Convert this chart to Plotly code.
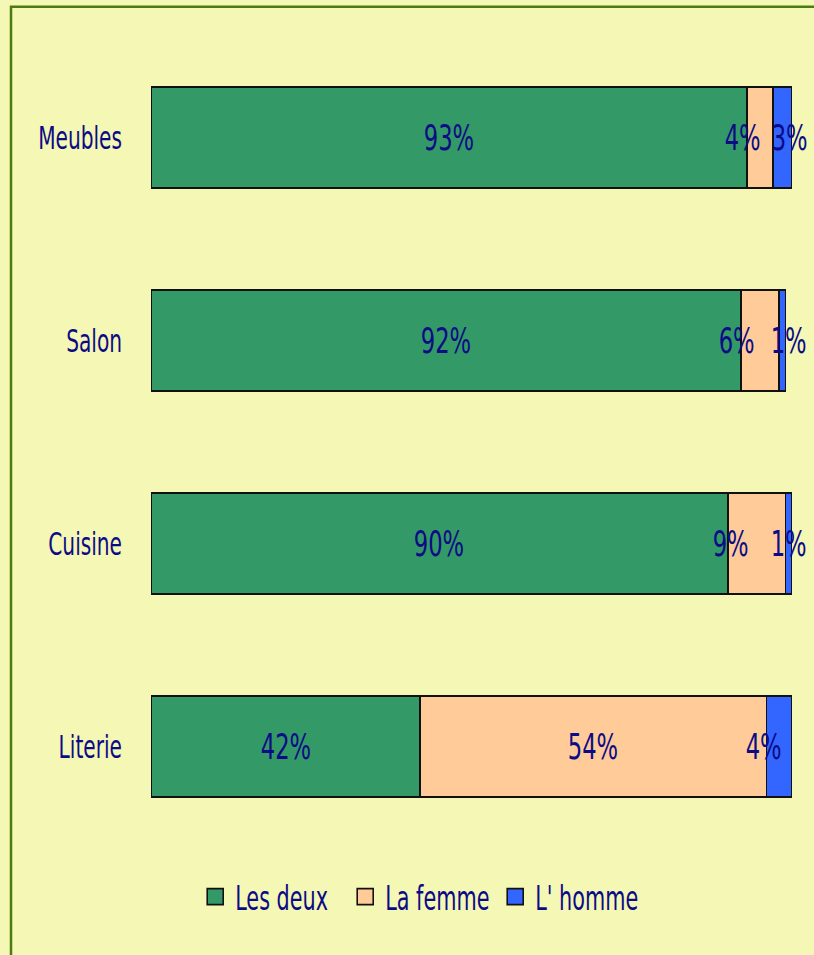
import plotly.graph_objects as go

categories = ["Meubles", "Salon", "Cuisine", "Literie"]
les_deux = [93, 92, 90, 42]
la_femme = [4, 6, 9, 54]
l_homme = [3, 1, 1, 4]
series_names = ["Les deux", "La femme", "L' homme"]
colors = ["#339966", "#FFCC99", "#3366FF"]
# small pixel nudges for the value labels (style only)
label_shift = [[0, -17, 7], [0, -23, 6], [0, -26, 0], [0, 0, -16]]

FONT = "DejaVu Sans Condensed, Liberation Sans Narrow, sans-serif"
TXT = "#0B0B86"
BG = "#F5F7B4"
SQUEEZE = 0.70  # horizontal condensing of all texts (reference uses a very narrow face)

fig = go.Figure()
series = [les_deux, la_femme, l_homme]
for name, vals, col in zip(series_names, series, colors):
    fig.add_trace(go.Bar(
        y=categories, x=vals, orientation="h", name=name,
        marker=dict(color=col, line=dict(color="#111111", width=1.6)),
        width=0.5, showlegend=False, hoverinfo="x+name",
    ))
for name, col in zip(series_names, colors):
    fig.add_trace(go.Scatter(
        x=[None], y=[None], mode="markers", name=name,
        marker=dict(symbol="square", size=16, color=col,
                    line=dict(color="#111111", width=1.6)),
    ))

annotations = []
for i, cat in enumerate(categories):
    start = 0
    for j, vals in enumerate(series):
        v = vals[i]
        annotations.append(dict(
            x=start + v / 2, y=cat, xref="x", yref="y",
            text=f"{v}%", showarrow=False, xshift=label_shift[i][j],
            font=dict(family=FONT, size=36, color=TXT),
        ))
        start += v

fig.update_layout(
    width=814, height=955,
    paper_bgcolor=BG, plot_bgcolor=BG,
    margin=dict(l=151, r=22, t=36, b=107, autoexpand=False),
    barmode="stack",
    font=dict(family=FONT, size=32, color=TXT),
    annotations=annotations,
    xaxis=dict(range=[0, 100], visible=False, fixedrange=True, automargin=False),
    yaxis=dict(categoryorder="array", categoryarray=categories[::-1],
               range=[-0.5, 3.5], showline=False, showgrid=False,
               zeroline=False, ticks="", ticklabelstandoff=28, automargin=False,
               tickfont=dict(family=FONT, size=32, color=TXT)),
    legend=dict(orientation="h", x=0.42, xanchor="center", y=-0.06,
                yanchor="middle", bgcolor="rgba(0,0,0,0)",
                traceorder="normal", entrywidth=105, entrywidthmode="pixels",
                font=dict(family=FONT, size=33, color=TXT),
                itemwidth=30, tracegroupgap=0),
    shapes=[dict(type="rect", xref="paper", yref="paper",
                 x0=-0.2184, x1=1.5, y0=-0.5, y1=1.036,
                 line=dict(color="#4B7B12", width=2.5),
                 fillcolor="rgba(0,0,0,0)", layer="below")],
)

post = """
document.body.style.margin='0';
var gd = document.getElementById('{plot_id}');
gd.querySelectorAll('svg text').forEach(function(t){
  var x = parseFloat(t.getAttribute('x')) || 0;
  var tr = t.getAttribute('transform') || '';
  t.setAttribute('transform', tr + ' translate(' + x + ',0) scale(%s,1) translate(' + (-x) + ',0)');
});
""" % SQUEEZE

fig.write_html("out.html", post_script=post, config={"displayModeBar": False})
